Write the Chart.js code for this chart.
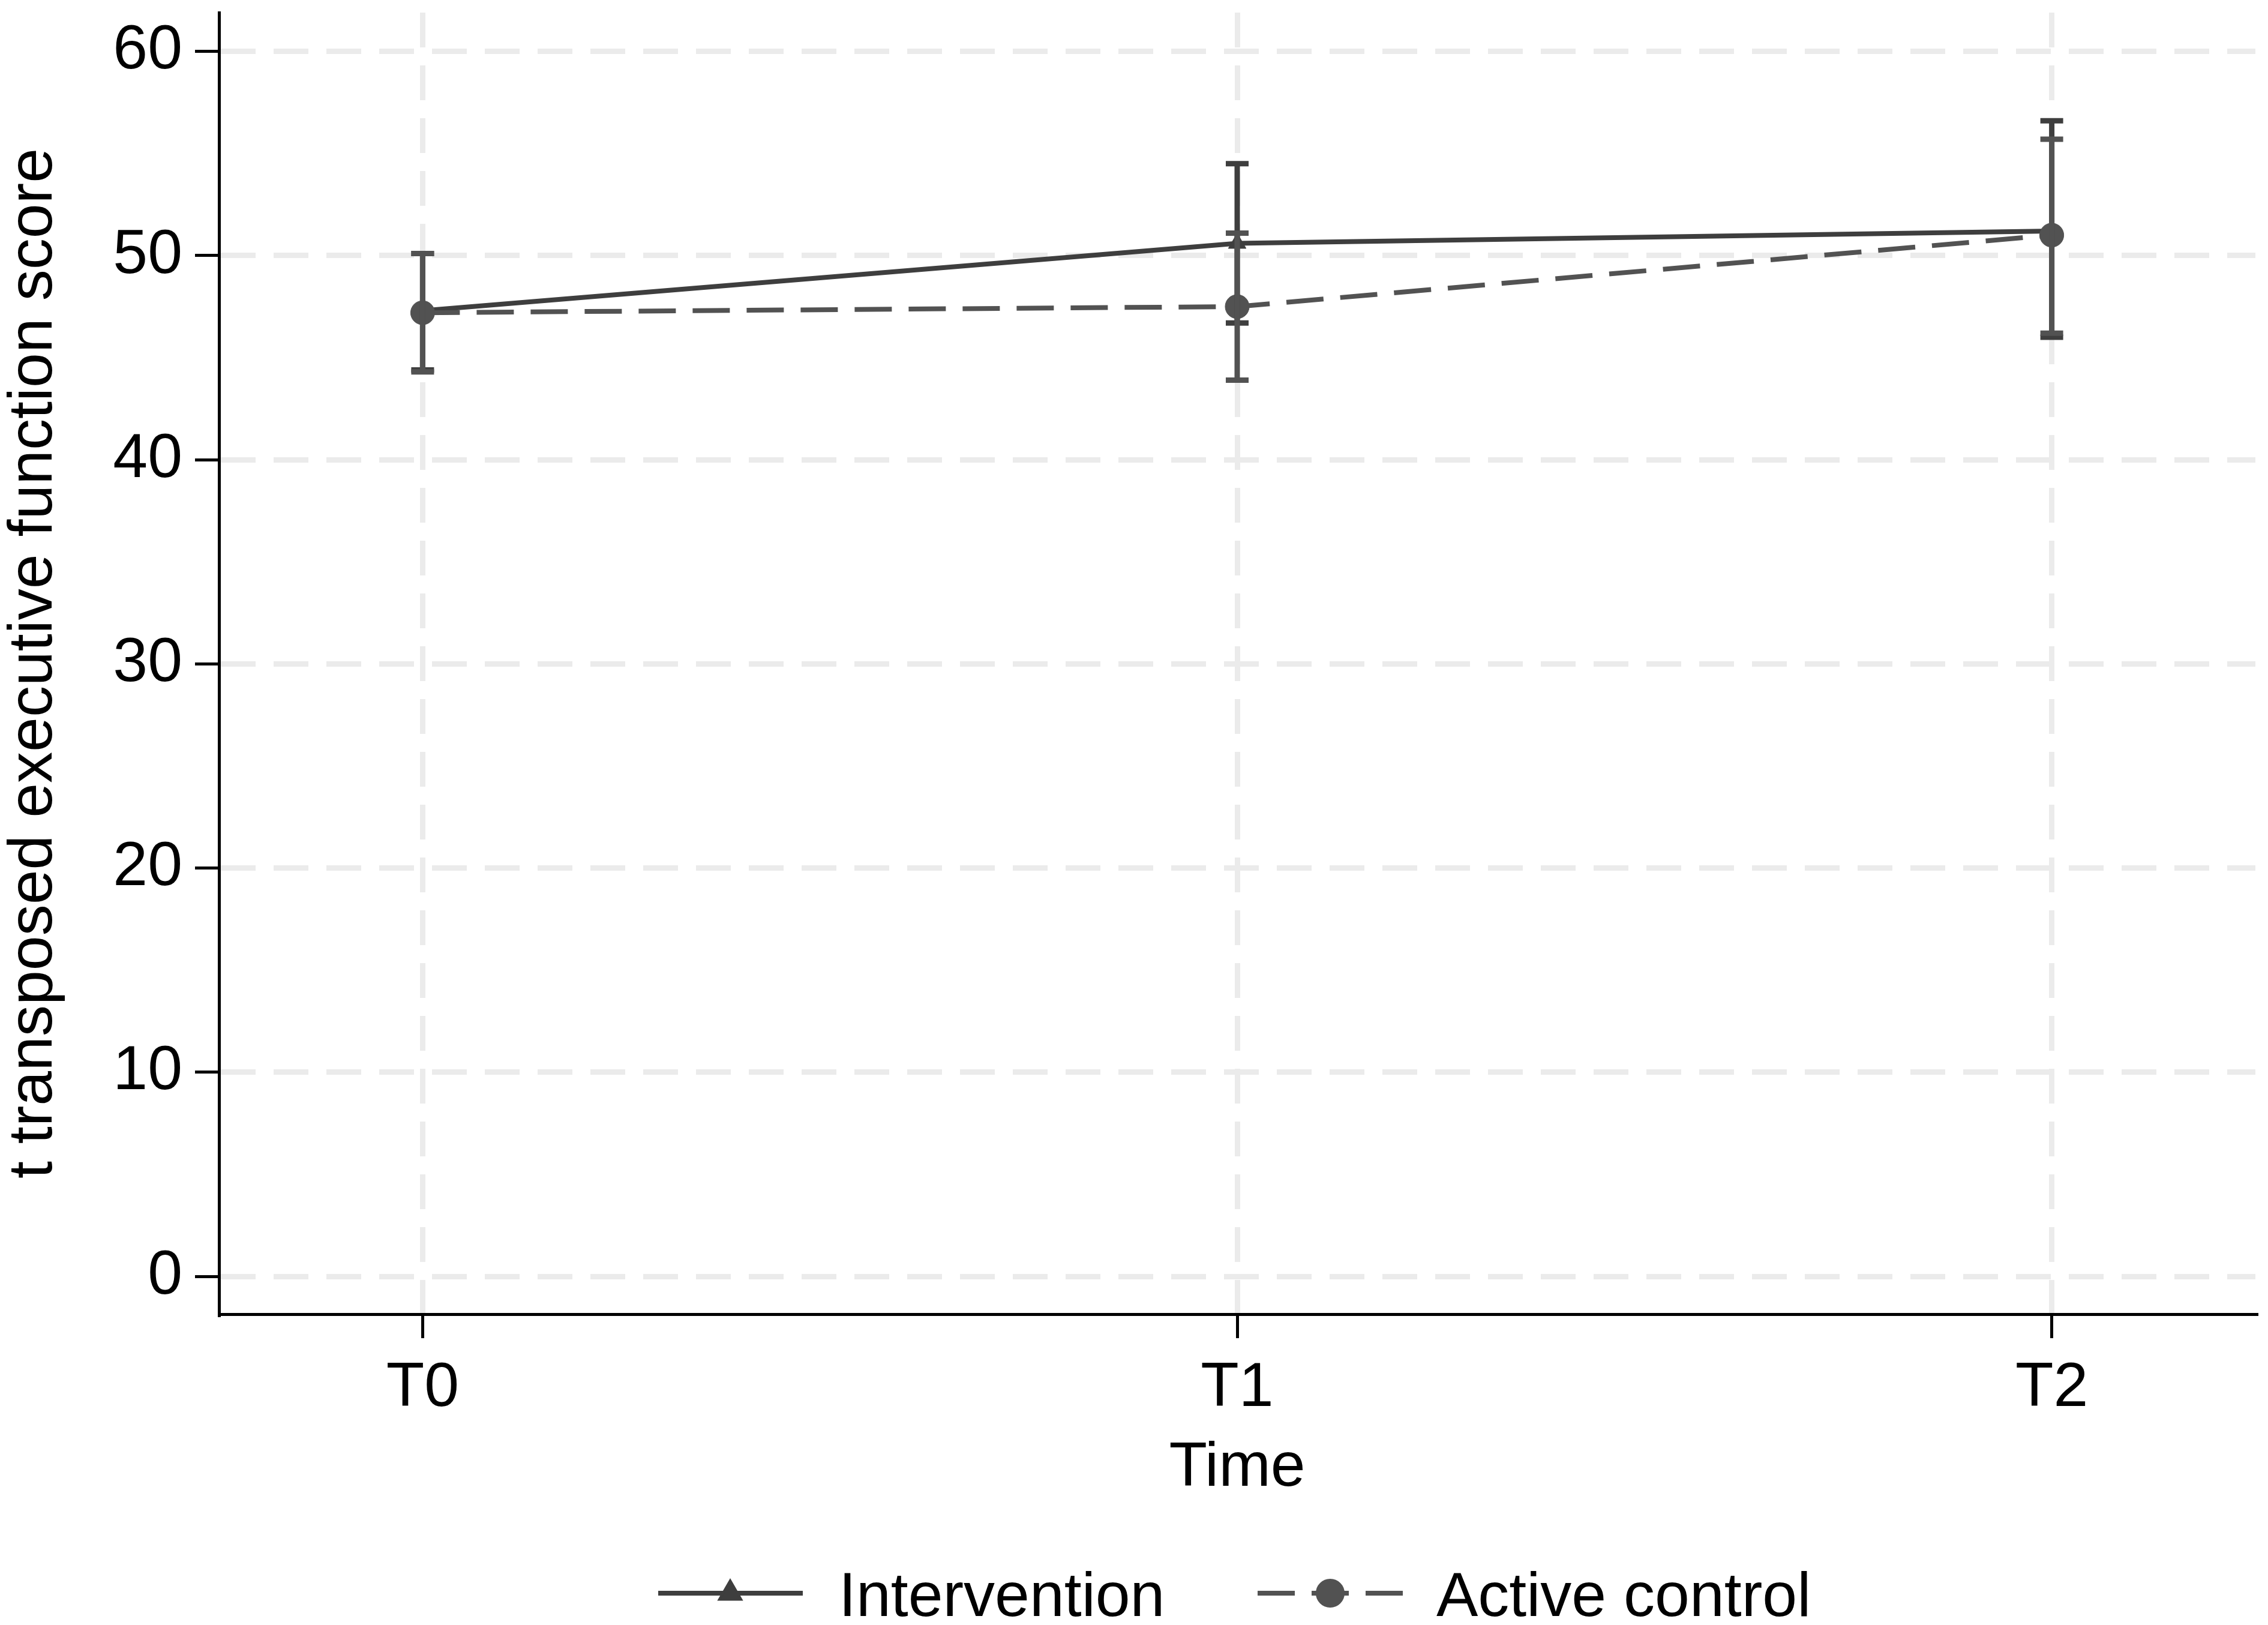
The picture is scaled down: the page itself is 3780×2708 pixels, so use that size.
<!DOCTYPE html>
<html>
<head>
<meta charset="utf-8">
<script src="https://cdn.jsdelivr.net/npm/chart.js@4.4.1/dist/chart.umd.min.js"></script>
<style>
  html, body { margin: 0; padding: 0; background: #fff; }
  #wrap { width: 3780px; height: 2708px; }
</style>
</head>
<body>
<div id="wrap"><canvas id="effChart" width="3780" height="2708"></canvas></div>
<script>
// time points and axis ticks
var timeLabels = ['T0', 'T1', 'T2'];
var yTicks = [0, 10, 20, 30, 40, 50, 60];

// Intervention: mean and 95% CI
var interventionMean = [47.3, 50.6, 51.2];
var interventionLo = [44.4, 46.7, 46.0];
var interventionHi = [50.1, 54.5, 56.6];

// Active control: mean and 95% CI
var controlMean = [47.2, 47.5, 51.0];
var controlLo = [44.3, 43.9, 46.2];
var controlHi = [50.1, 51.1, 55.7];

var FONT = '"Liberation Sans", Arial, sans-serif';
var interventionColor = '#3e3e3e';
var controlColor = '#525252';

function toPoints(arr) {
    return arr.map(function(v, i) { return {x: i, y: v}; });
}

var ciBars = [
    {lo: interventionLo, hi: interventionHi, color: interventionColor},
    {lo: controlLo, hi: controlHi, color: controlColor}
];

// whiskers with caps, placed through the chart scales
var errorBars = {
    id: 'errorBars',
    afterDatasetsDraw: function(chart) {
        var ctx = chart.ctx;
        var xs = chart.scales.x, ys = chart.scales.y;
        ciBars.forEach(function(bar) {
            ctx.save();
            ctx.strokeStyle = bar.color;
            ctx.lineWidth = 9;
            ctx.setLineDash([]);
            bar.lo.forEach(function(lo, j) {
                var px = xs.getPixelForValue(j);
                var top = ys.getPixelForValue(bar.hi[j]);
                var bot = ys.getPixelForValue(lo);
                ctx.beginPath();
                ctx.moveTo(px, top); ctx.lineTo(px, bot);
                ctx.moveTo(px - 19, top); ctx.lineTo(px + 19, top);
                ctx.moveTo(px - 19, bot); ctx.lineTo(px + 19, bot);
                ctx.stroke();
            });
            ctx.restore();
        });
    }
};

// legend at the bottom: line sample with marker + label
var bottomLegend = {
    id: 'bottomLegend',
    afterDraw: function(chart) {
        var ctx = chart.ctx;
        var yMid = 2655;
        ctx.save();
        // Intervention
        ctx.strokeStyle = interventionColor;
        ctx.fillStyle = interventionColor;
        ctx.lineWidth = 8;
        ctx.setLineDash([]);
        ctx.beginPath(); ctx.moveTo(1097, yMid); ctx.lineTo(1338, yMid); ctx.stroke();
        Chart.helpers.drawPoint(ctx, {pointStyle: 'triangle', radius: 17, borderWidth: 1}, 1217, yMid);
        ctx.fill();
        // Active control
        ctx.strokeStyle = controlColor;
        ctx.fillStyle = controlColor;
        ctx.setLineDash([62, 28]);
        ctx.beginPath(); ctx.moveTo(2096, yMid); ctx.lineTo(2338, yMid); ctx.stroke();
        ctx.setLineDash([]);
        Chart.helpers.drawPoint(ctx, {pointStyle: 'circle', radius: 20, borderWidth: 1}, 2217, yMid);
        ctx.fill();
        // labels
        ctx.fillStyle = '#000';
        ctx.font = '104px ' + FONT;
        ctx.textAlign = 'left';
        ctx.textBaseline = 'alphabetic';
        ctx.fillText(chart.data.datasets[0].label, 1398, 2693);
        ctx.fillText(chart.data.datasets[1].label, 2394, 2693);
        ctx.restore();
    }
};

var ctx = document.getElementById('effChart').getContext('2d');
var effChart = new Chart(ctx, {
    type: 'line',
    data: {
        datasets: [{
            label: 'Intervention',
            data: toPoints(interventionMean),
            borderColor: interventionColor,
            backgroundColor: interventionColor,
            borderWidth: 8,
            pointStyle: 'triangle',
            pointRadius: 17,
            pointBorderWidth: 1,
            tension: 0,
            order: 1
        }, {
            label: 'Active control',
            data: toPoints(controlMean),
            borderColor: controlColor,
            backgroundColor: controlColor,
            borderWidth: 8,
            borderDash: [62, 28],
            pointStyle: 'circle',
            pointRadius: 20,
            pointBorderWidth: 1,
            tension: 0,
            order: 0
        }]
    },
    options: {
        responsive: false,
        devicePixelRatio: 1,
        animation: false,
        layout: { padding: { top: 13, right: 15, left: 0, bottom: 198 } },
        scales: {
            x: {
                type: 'linear',
                min: -0.25,
                max: 2.25,
                afterBuildTicks: function(scale) {
                    scale.ticks = timeLabels.map(function(_, i) { return {value: i}; });
                },
                afterFit: function(scale) {
                    scale.height = 320;
                    scale.paddingLeft = 0;
                    scale.paddingRight = 0;
                },
                ticks: {
                    color: '#000',
                    font: { size: 104, family: FONT },
                    padding: 22,
                    maxRotation: 0,
                    callback: function(v) { return timeLabels[v]; }
                },
                grid: {
                    color: '#ebebeb',
                    lineWidth: 9,
                    tickLength: 40,
                    tickColor: '#000',
                    tickWidth: 5,
                    tickBorderDash: []
                },
                border: { display: true, color: '#000', width: 5, dash: [58, 30] },
                title: {
                    display: true,
                    text: 'Time',
                    color: '#000',
                    font: { size: 104, family: FONT },
                    padding: 0
                }
            },
            y: {
                type: 'linear',
                min: -1.85,
                max: 61.9,
                afterBuildTicks: function(scale) {
                    scale.ticks = yTicks.map(function(v) { return {value: v}; });
                },
                afterFit: function(scale) {
                    scale.width = 365;
                    scale.paddingTop = 0;
                    scale.paddingBottom = 0;
                },
                ticks: {
                    color: '#000',
                    font: { size: 104, family: FONT },
                    padding: 21
                },
                grid: {
                    color: '#ebebeb',
                    lineWidth: 9,
                    tickLength: 40,
                    tickColor: '#000',
                    tickWidth: 5,
                    tickBorderDash: []
                },
                border: { display: true, color: '#000', width: 5, dash: [58, 30] },
                title: {
                    display: true,
                    text: 't transposed executive function score',
                    color: '#000',
                    font: { size: 104, family: FONT, lineHeight: 1.1 },
                    padding: 0
                }
            }
        },
        plugins: {
            legend: { display: false },
            tooltip: { enabled: false }
        }
    },
    plugins: [errorBars, bottomLegend]
});
</script>
</body>
</html>
